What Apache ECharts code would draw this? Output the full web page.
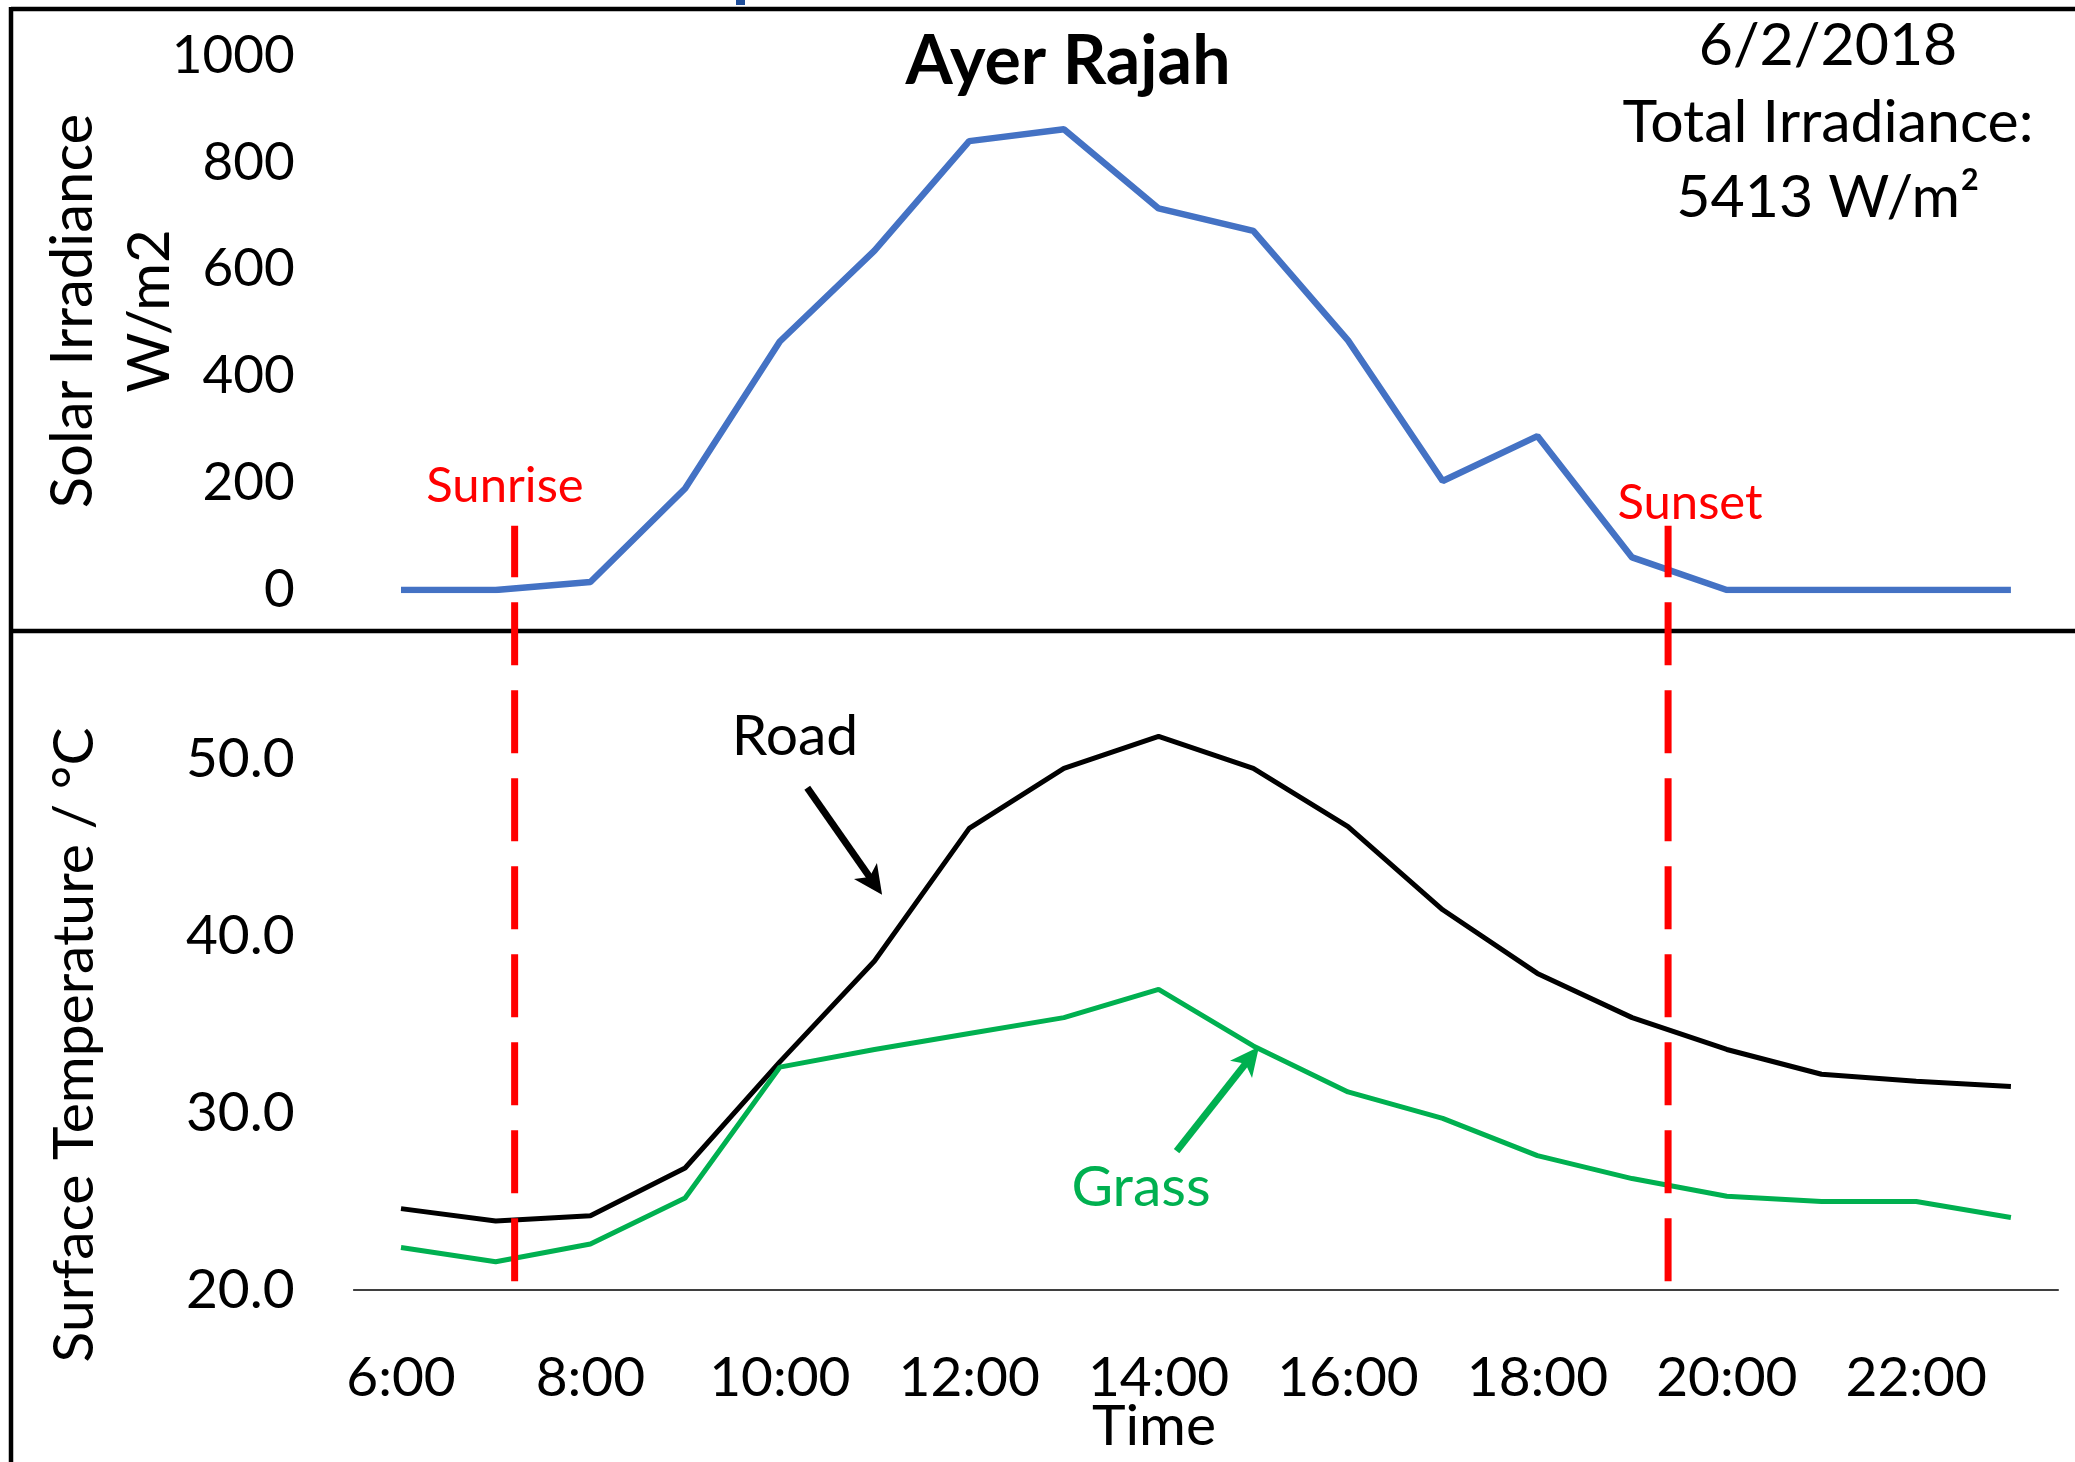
<!DOCTYPE html>
<html>
<head>
<meta charset="utf-8">
<script src="https://cdn.jsdelivr.net/npm/echarts@6/dist/echarts.min.js"></script>
<style>
html,body{margin:0;padding:0;background:#fff;}
#chart{width:2075px;height:1462px;}
</style>
</head>
<body>
<div id="chart"></div>
<script>
// ---- data ----
const hours = ['6:00','7:00','8:00','9:00','10:00','11:00','12:00','13:00','14:00',
               '15:00','16:00','17:00','18:00','19:00','20:00','21:00','22:00','23:00'];
const hourNumbers = [6,7,8,9,10,11,12,13,14,15,16,17,18,19,20,21,22,23];
const irradiance = [0,0,15,190,465,635,840,862,714,672,467,204,288,61,0,0,0,0];
const roadTemp  = [24.6,23.9,24.2,26.9,32.9,38.6,46.1,49.5,51.3,49.5,46.2,41.5,37.9,35.4,33.6,32.2,31.8,31.5];
const grassTemp = [22.4,21.6,22.6,25.2,32.6,33.6,34.5,35.4,37.0,33.8,31.2,29.7,27.6,26.3,25.3,25.0,25.0,24.1];
const irrTicks  = [0,200,400,600,800,1000];
const tempTicks = [20,30,40,50];
const sunEvents = [{name:'Sunrise', hour:7.2}, {name:'Sunset', hour:19.38}];
const infoLines = ['6/2/2018','Total Irradiance:','5413 W/m\u00B2'];

// ---- annotation placement (data coordinates of the lower panel) ----
const roadArrow  = {from:[10.29,48.4], to:[11.08,42.35]};
const grassArrow = {from:[14.19,27.85], to:[15.06,33.76]};

const FONT = 'Lato';
const chart = echarts.init(document.getElementById('chart'), null, {renderer:'canvas'});

const gridLeft = 353.65, gridWidth = 1704.6;
const option = {
  animation:false,
  backgroundColor:'#ffffff',
  grid:[
    {left:gridLeft, width:gridWidth, top:55.6, height:534.4},
    {left:gridLeft, width:gridWidth, top:671, height:619}
  ],
  xAxis:[
    {type:'category', gridIndex:0, data:hours, boundaryGap:true, show:false},
    {type:'category', gridIndex:1, data:hours, boundaryGap:true,
     axisLine:{show:true, onZero:false, lineStyle:{color:'#000', width:1.5}},
     axisTick:{show:false}, splitLine:{show:false},
     axisLabel:{interval:1, color:'#000', fontFamily:FONT, fontSize:55, margin:61}},
    {type:'value', gridIndex:0, min:hourNumbers[0]-0.5, max:hourNumbers[hourNumbers.length-1]+0.5, show:false},
    {type:'value', gridIndex:1, min:hourNumbers[0]-0.5, max:hourNumbers[hourNumbers.length-1]+0.5, show:false}
  ],
  yAxis:[
    {type:'value', gridIndex:0, min:irrTicks[0], max:irrTicks[irrTicks.length-1],
     interval:irrTicks[1]-irrTicks[0],
     axisLine:{show:false}, axisTick:{show:false}, splitLine:{show:false},
     axisLabel:{color:'#000', fontFamily:FONT, fontSize:53, margin:59, formatter:v=>String(v)}},
    {type:'value', gridIndex:1, min:tempTicks[0], max:55, interval:tempTicks[1]-tempTicks[0],
     axisLine:{show:false}, axisTick:{show:false}, splitLine:{show:false},
     axisLabel:{color:'#000', fontFamily:FONT, fontSize:55, margin:59, showMaxLabel:false,
                formatter:v=>v.toFixed(1)}}
  ],
  series:[
    {name:'Solar Irradiance', type:'line', xAxisIndex:0, yAxisIndex:0, data:irradiance,
     symbol:'none', lineStyle:{color:'#4472C4', width:6.5}},
    {name:'Road', type:'line', xAxisIndex:1, yAxisIndex:1, data:roadTemp,
     symbol:'none', lineStyle:{color:'#000000', width:5}},
    {name:'Grass', type:'line', xAxisIndex:1, yAxisIndex:1, data:grassTemp,
     symbol:'none', lineStyle:{color:'#00B050', width:5}}
  ]
};
chart.setOption(option);

function px(panel, hour, val){
  const x = chart.convertToPixel({xAxisIndex:2+panel}, hour);
  const y = chart.convertToPixel({yAxisIndex:panel}, val);
  return [x,y];
}

function arrow(a, color){
  const s = px(1, a.from[0], a.from[1]);
  const e = px(1, a.to[0], a.to[1]);
  const dx = e[0]-s[0], dy = e[1]-s[1];
  const len = Math.hypot(dx,dy);
  const ux = dx/len, uy = dy/len, nx = -uy, ny = ux;
  const L = 29, W = 14;
  const bx = e[0]-L*ux, by = e[1]-L*uy;
  return [
    {type:'line', shape:{x1:s[0], y1:s[1], x2:e[0]-0.6*L*ux, y2:e[1]-0.6*L*uy},
     style:{stroke:color, lineWidth:7}},
    {type:'polygon', shape:{points:[[e[0],e[1]],[bx+W*nx,by+W*ny],[e[0]-0.75*L*ux,e[1]-0.75*L*uy],[bx-W*nx,by-W*ny]]},
     style:{fill:color}}
  ];
}

const g = [];
// frame
g.push({type:'line', shape:{x1:11, y1:9, x2:2075, y2:9}, style:{stroke:'#000', lineWidth:4.5}});
g.push({type:'line', shape:{x1:11, y1:7, x2:11, y2:1462}, style:{stroke:'#000', lineWidth:4.5}});
g.push({type:'line', shape:{x1:11, y1:631, x2:2075, y2:631}, style:{stroke:'#000', lineWidth:4.5}});
g.push({type:'rect', shape:{x:736, y:0, width:9, height:5}, style:{fill:'#1F4E9A'}});

// sunrise / sunset dashed lines
sunEvents.forEach(ev=>{
  const top = px(0, ev.hour, 120);
  const bot = px(1, ev.hour, 20.5);
  g.push({type:'line', shape:{x1:bot[0], y1:bot[1], x2:top[0], y2:top[1]},
          style:{stroke:'#FF0000', lineWidth:7, lineDash:[63,25]}, z:10});
});
g.push({type:'text', x:505, y:486, style:{text:'Sunrise', fill:'#FF0000', fontFamily:FONT, fontSize:49, align:'center', verticalAlign:'middle'}});
g.push({type:'text', x:1690, y:503, style:{text:'Sunset', fill:'#FF0000', fontFamily:FONT, fontSize:49, align:'center', verticalAlign:'middle'}});

// title and info
g.push({type:'text', x:1068, y:62, style:{text:'Ayer Rajah', fill:'#000', fontFamily:FONT, fontWeight:'bold', fontSize:68, align:'center', verticalAlign:'middle'}});
[46,123,198].forEach((y,i)=>{
  g.push({type:'text', x:1828, y:y, style:{text:infoLines[i], fill:'#000', fontFamily:FONT, fontSize:59, align:'center', verticalAlign:'middle'}});
});

// axis titles
g.push({type:'text', x:73, y:311, rotation:Math.PI/2, style:{text:'Solar Irradiance', fill:'#000', fontFamily:FONT, fontSize:58, align:'center', verticalAlign:'middle'}});
g.push({type:'text', x:150, y:311, rotation:Math.PI/2, style:{text:'W/m2', fill:'#000', fontFamily:FONT, fontSize:58, align:'center', verticalAlign:'middle'}});
g.push({type:'text', x:75, y:1045, rotation:Math.PI/2, style:{text:'Surface Temperature / \u00B0C', fill:'#000', fontFamily:FONT, fontSize:57, align:'center', verticalAlign:'middle'}});
g.push({type:'text', x:1154, y:1427, style:{text:'Time', fill:'#000', fontFamily:FONT, fontSize:57, align:'center', verticalAlign:'middle'}});

// series labels and arrows
g.push({type:'text', x:795, y:737, style:{text:'Road', fill:'#000', fontFamily:FONT, fontSize:57, align:'center', verticalAlign:'middle'}});
g.push({type:'text', x:1141, y:1188, style:{text:'Grass', fill:'#00B050', fontFamily:FONT, fontSize:57, align:'center', verticalAlign:'middle'}});
arrow(roadArrow, '#000').forEach(e=>g.push(e));
arrow(grassArrow, '#00B050').forEach(e=>g.push(e));

chart.setOption({graphic:{elements:g}});
</script>
</body>
</html>
